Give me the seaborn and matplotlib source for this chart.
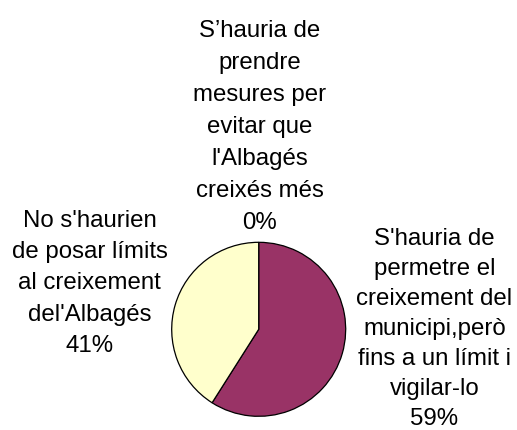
import matplotlib

matplotlib.use("Agg")
import matplotlib.pyplot as plt
import seaborn as sns

# categories (line breaks as in the chart) and their shares
categories = [
    "S’hauria de\nprendre\nmesures per\nevitar que\nl'Albagés\ncreixés més",
    "S'hauria de\npermetre el\ncreixement del\nmunicipi,però\nfins a un límit i\nvigilar-lo",
    "No s'haurien\nde posar límits\nal creixement\ndel'Albagés",
]
values = [0, 59, 41]

sns.set_theme(style="white")
plt.rcParams["font.family"] = ["Liberation Sans", "DejaVu Sans"]

slice_colors = ["#9999FF", "#993366", "#FFFFCC"]

W, H, DPI = 517, 431, 100
fig = plt.figure(figsize=(W / DPI, H / DPI), dpi=DPI)
fig.patch.set_facecolor("white")

# pie: centre (259, 330) px from top-left, radius 87 px
cx, cy, r = 258.7, 330.3, 87.0
pad = 1.05
half = r * pad
ax = fig.add_axes([(cx - half) / W, (H - cy - half) / H, 2 * half / W, 2 * half / H])
ax.pie(
    values,
    colors=slice_colors,
    startangle=90,
    counterclock=False,
    radius=1,
    wedgeprops={"edgecolor": "black", "linewidth": 0.9},
)
ax.set_xlim(-pad, pad)
ax.set_ylim(-pad, pad)
ax.set_aspect("equal")
ax.axis("off")

# label blocks: centre x, first baseline y, line pitch (pixels from top)
label_layout = [
    (259.5, 37, 32.0),
    (434.5, 245, 30.0),
    (89.5, 227, 31.2),
]

for cat, val, (lx, ly, pitch) in zip(categories, values, label_layout):
    lines = cat.split("\n") + [f"{val:.0f}%"]
    for i, line in enumerate(lines):
        fig.text(
            lx / W,
            1 - (ly + i * pitch) / H,
            line,
            ha="center",
            va="baseline",
            fontsize=17.3,
            color="black",
        )

fig.savefig("out.png", dpi=DPI)
plt.close(fig)
